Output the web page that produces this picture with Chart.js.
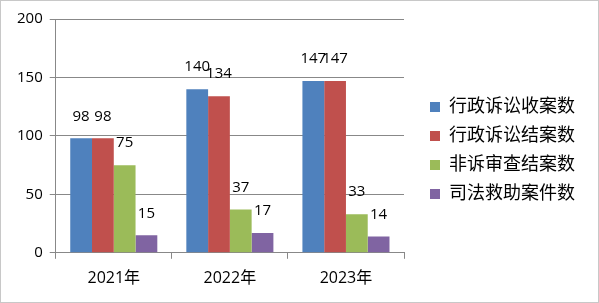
<!DOCTYPE html>
<html>
<head>
<meta charset="utf-8">
<script src="https://cdn.jsdelivr.net/npm/chart.js@4/dist/chart.umd.min.js"></script>
<style>
  body { margin: 0; background: #fff; }
  #box { position: relative; width: 597px; height: 301px; border: 1px solid #c8c8c8; }
</style>
</head>
<body>
<div id="box"><canvas id="myChart"></canvas></div>
<script>
const years = ['2021年', '2022年', '2023年'];
const seriesNames = ['行政诉讼收案数', '行政诉讼结案数', '非诉审查结案数', '司法救助案件数'];
const shouAn = [98, 140, 147];
const jieAn = [98, 134, 147];
const feiSu = [75, 37, 33];
const jiuZhu = [15, 17, 14];
const yTicks = [0, 50, 100, 150, 200];

const colors = ['#4f81bd', '#c0504d', '#9bbb59', '#8064a2'];
const fontFam = '"Open Sans", "Noto Sans CJK SC", sans-serif';

// value labels above each bar
const barLabels = {
    id: 'barLabels',
    afterDatasetsDraw(chart) {
        const ctx = chart.ctx;
        ctx.save();
        ctx.font = '15px ' + fontFam;
        ctx.fillStyle = '#000';
        ctx.textAlign = 'center';
        ctx.textBaseline = 'middle';
        chart.data.datasets.forEach((ds, i) => {
            chart.getDatasetMeta(i).data.forEach((bar, j) => {
                ctx.fillText(ds.data[j], bar.x, bar.y - 22);
            });
        });
        ctx.restore();
    }
};

// nudge the legend up a little
const legendShift = {
    id: 'legendShift',
    afterLayout(chart) {
        chart.legend.top -= 8;
        chart.legend.bottom -= 8;
    }
};

let ctx = document.getElementById('myChart');
let myChart = new Chart(ctx, {
    type: 'bar',
    data: {
        labels: years,
        datasets: [
            { label: seriesNames[0], data: shouAn, backgroundColor: colors[0] },
            { label: seriesNames[1], data: jieAn, backgroundColor: colors[1] },
            { label: seriesNames[2], data: feiSu, backgroundColor: colors[2] },
            { label: seriesNames[3], data: jiuZhu, backgroundColor: colors[3] }
        ]
    },
    options: {
        responsive: true,
        maintainAspectRatio: false,
        animation: false,
        datasets: { bar: { categoryPercentage: 0.75, barPercentage: 1 } },
        layout: { padding: { left: 9, right: 13, top: 18, bottom: 4 } },
        plugins: {
            tooltip: { enabled: false },
            legend: {
                position: 'right',
                maxWidth: 200,
                labels: {
                    boxWidth: 10,
                    boxHeight: 10,
                    padding: 11,
                    color: '#000',
                    font: { family: fontFam, size: 18 }
                }
            }
        },
        scales: {
            x: {
                grid: { drawOnChartArea: false, offset: true, tickLength: 6, color: '#888' },
                border: { color: '#888' },
                ticks: { color: '#000', font: { family: fontFam, size: 16 }, padding: 10 }
            },
            y: {
                min: 0,
                max: 200,
                afterBuildTicks: axis => { axis.ticks = yTicks.map(v => ({ value: v })); },
                grid: { color: '#888', tickLength: 6 },
                border: { color: '#888' },
                ticks: { color: '#000', font: { family: fontFam, size: 15 }, padding: 7 }
            },
            // empty spacer between plot and legend
            gap: {
                type: 'linear',
                position: 'right',
                display: true,
                grid: { display: false },
                border: { display: false },
                ticks: { display: false },
                afterFit: s => { s.width = 15; }
            }
        }
    },
    plugins: [barLabels, legendShift]
});
</script>
</body>
</html>
